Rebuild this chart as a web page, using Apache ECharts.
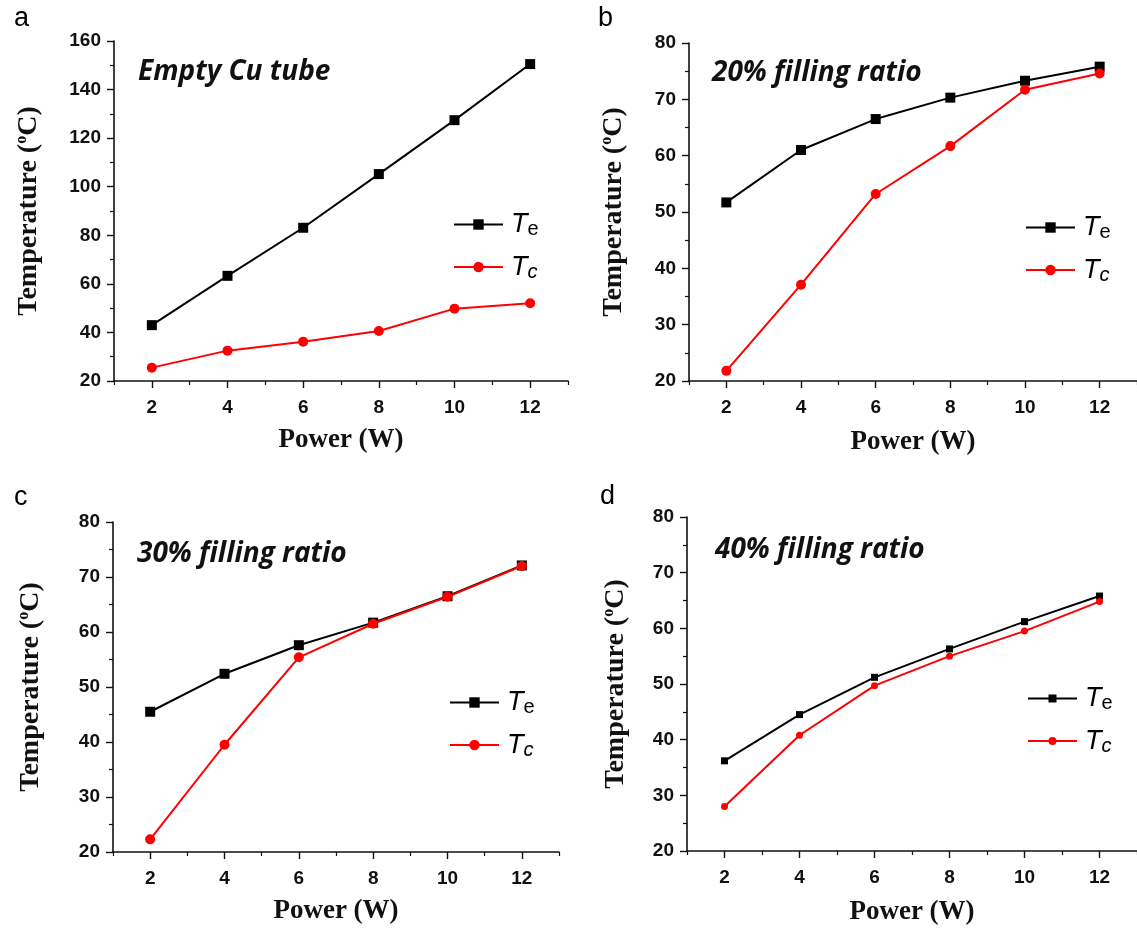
<!DOCTYPE html>
<html><head><meta charset="utf-8">
<script src="https://cdn.jsdelivr.net/npm/echarts@6/dist/echarts.min.js"></script>
<style>html,body{margin:0;padding:0;background:#fff}#c{width:1137px;height:928px}</style>
</head><body><div id="c"></div>
<script>
// ---------- data ----------
const power = [2, 4, 6, 8, 10, 12];
const xMajorTicks = [2, 4, 6, 8, 10, 12];
const xMinorTicks = [1, 3, 5, 7, 9, 11, 13];
const teA = [43.0, 63.3, 83.1, 105.2, 127.4, 150.5];
const tcA = [25.5, 32.5, 36.2, 40.6, 49.8, 52.0];
const teB = [51.7, 61.0, 66.5, 70.3, 73.3, 75.8];
const tcB = [21.8, 37.1, 53.2, 61.7, 71.7, 74.6];
const teC = [45.5, 52.4, 57.6, 61.7, 66.5, 72.1];
const tcC = [22.3, 39.5, 55.4, 61.5, 66.4, 72.0];
const teD = [36.2, 44.5, 51.2, 56.3, 61.2, 65.8];
const tcD = [28.0, 40.8, 49.7, 55.0, 59.5, 64.8];
const panelLetters = ['a', 'b', 'c', 'd'];
const panelNotes = ['Empty Cu tube', '20% filling ratio', '30% filling ratio', '40% filling ratio'];
const yMins = [20, 20, 20, 20];
const yMaxs = [160, 80, 80, 80];
const yIntervals = [20, 10, 10, 10];
const teSets = [teA, teB, teC, teD];
const tcSets = [tcA, tcB, tcC, tcD];

// ---------- layout ----------
const layout = [
  {grid: {left: 114, top: 41, width: 454, height: 340}, yGap: 70, xGap: 46, letter: [14, 5], note: [138, 58], legend: [453, 211]},
  {grid: {left: 689, top: 43, width: 450, height: 338}, yGap: 60, xGap: 48, letter: [598, 5], note: [712, 59], legend: [1025, 214]},
  {grid: {left: 113, top: 522, width: 446, height: 330}, yGap: 67, xGap: 46, letter: [14, 484], note: [137, 540], legend: [449, 689]},
  {grid: {left: 687, top: 517, width: 452, height: 334}, yGap: 56, xGap: 48, letter: [600, 483], note: [715, 536], legend: [1027, 685]}
];

const INK = '#111';
const sans = 'Liberation Sans';
const serif = 'Liberation Serif';

const grids = [], xAxes = [], yAxes = [], series = [], titles = [], legends = [];

layout.forEach((L, i) => {
  grids.push(Object.assign({containLabel: false}, L.grid));
  // main x axis
  xAxes.push({
    type: 'value', gridIndex: i, min: 1, max: 13, interval: 1,
    name: 'Power (W)', nameLocation: 'middle', nameGap: L.xGap,
    nameTextStyle: {fontFamily: serif, fontWeight: 'bold', fontSize: 27, color: INK},
    axisLine: {show: true, onZero: false, lineStyle: {color: INK, width: 1.6}},
    axisTick: {show: true, inside: false, length: 7, customValues: xMajorTicks, lineStyle: {color: INK, width: 1.4}},
    axisLabel: {show: true, customValues: xMajorTicks, margin: 17, fontFamily: sans, fontWeight: 'bold', fontSize: 19, color: INK,
      formatter: v => (v % 2 === 0 ? String(v) : '')},
    splitLine: {show: false}
  });
  // minor x ticks
  xAxes.push({
    type: 'value', gridIndex: i, min: 1, max: 13, interval: 1, position: 'bottom',
    axisLine: {show: false, onZero: false},
    axisTick: {show: true, inside: false, length: 4, customValues: xMinorTicks, lineStyle: {color: INK, width: 1.2}},
    axisLabel: {show: false},
    splitLine: {show: false}
  });
  yAxes.push({
    type: 'value', gridIndex: i, min: yMins[i], max: yMaxs[i], interval: yIntervals[i],
    name: '{b|Temperature (}{s|o}{b|C)}', nameLocation: 'middle', nameGap: L.yGap, nameRotate: 90,
    nameTextStyle: {fontFamily: serif, fontWeight: 'bold', fontSize: 28, color: INK,
      rich: {
        b: {fontFamily: serif, fontWeight: 'bold', fontSize: 28, color: INK, lineHeight: 30},
        s: {fontFamily: serif, fontWeight: 'bold', fontSize: 16, color: INK, verticalAlign: 'top', lineHeight: 30}
      }},
    axisLine: {show: true, onZero: false, lineStyle: {color: INK, width: 1.6}},
    axisTick: {show: true, inside: false, length: 7, lineStyle: {color: INK, width: 1.4}},
    minorTick: {show: true, splitNumber: 2, length: 4, lineStyle: {color: INK, width: 1.2}},
    axisLabel: {margin: 13, fontFamily: sans, fontWeight: 'bold', fontSize: 19, color: INK},
    splitLine: {show: false}
  });
  const small = i === 3;
  series.push({
    name: 'Te ' + panelLetters[i], type: 'line', xAxisIndex: 2 * i, yAxisIndex: i,
    data: power.map((p, k) => [p, teSets[i][k]]),
    symbol: 'rect', symbolSize: small ? 7 : 10,
    itemStyle: {color: '#000'}, lineStyle: {color: '#000', width: 2}, z: 2
  });
  series.push({
    name: 'Tc ' + panelLetters[i], type: 'line', xAxisIndex: 2 * i, yAxisIndex: i,
    data: power.map((p, k) => [p, tcSets[i][k]]),
    symbol: 'circle', symbolSize: small ? 7 : 10,
    itemStyle: {color: '#ff0000'}, lineStyle: {color: '#ff0000', width: 2}, z: 3
  });
  titles.push({
    text: panelLetters[i], left: L.letter[0], top: L.letter[1], padding: 0,
    textStyle: {fontFamily: sans, fontWeight: 'normal', fontSize: 27, color: '#000'}
  });
  titles.push({
    text: panelNotes[i], left: L.note[0], top: L.note[1], padding: 0,
    textStyle: {fontFamily: 'Open Sans', fontWeight: 'bold', fontStyle: 'italic', fontSize: 28, color: '#111'}
  });
  legends.push({
    left: L.legend[0], top: L.legend[1], orient: 'vertical', padding: 0,
    itemWidth: 49, itemHeight: small ? 10 : 13, itemGap: 14, selectedMode: false,
    data: ['Te ' + panelLetters[i], 'Tc ' + panelLetters[i]],
    formatter: name => name.startsWith('Te') ? '{t|T}{e|e}' : '{t|T}{c|c}',
    textStyle: {
      rich: {
        t: {fontFamily: sans, fontStyle: 'italic', fontSize: 27, color: '#000', lineHeight: 30, padding: [0, 0, 0, 3]},
        e: {fontFamily: sans, fontSize: 20, color: '#000', lineHeight: 30, verticalAlign: 'bottom'},
        c: {fontFamily: sans, fontStyle: 'italic', fontSize: 20, color: '#000', lineHeight: 30, verticalAlign: 'bottom'}
      }
    }
  });
});

const chart = echarts.init(document.getElementById('c'), null, {renderer: 'canvas'});
chart.setOption({
  animation: false,
  backgroundColor: '#fff',
  title: titles,
  legend: legends,
  grid: grids,
  xAxis: xAxes,
  yAxis: yAxes,
  series: series
});
</script>
</body></html>
